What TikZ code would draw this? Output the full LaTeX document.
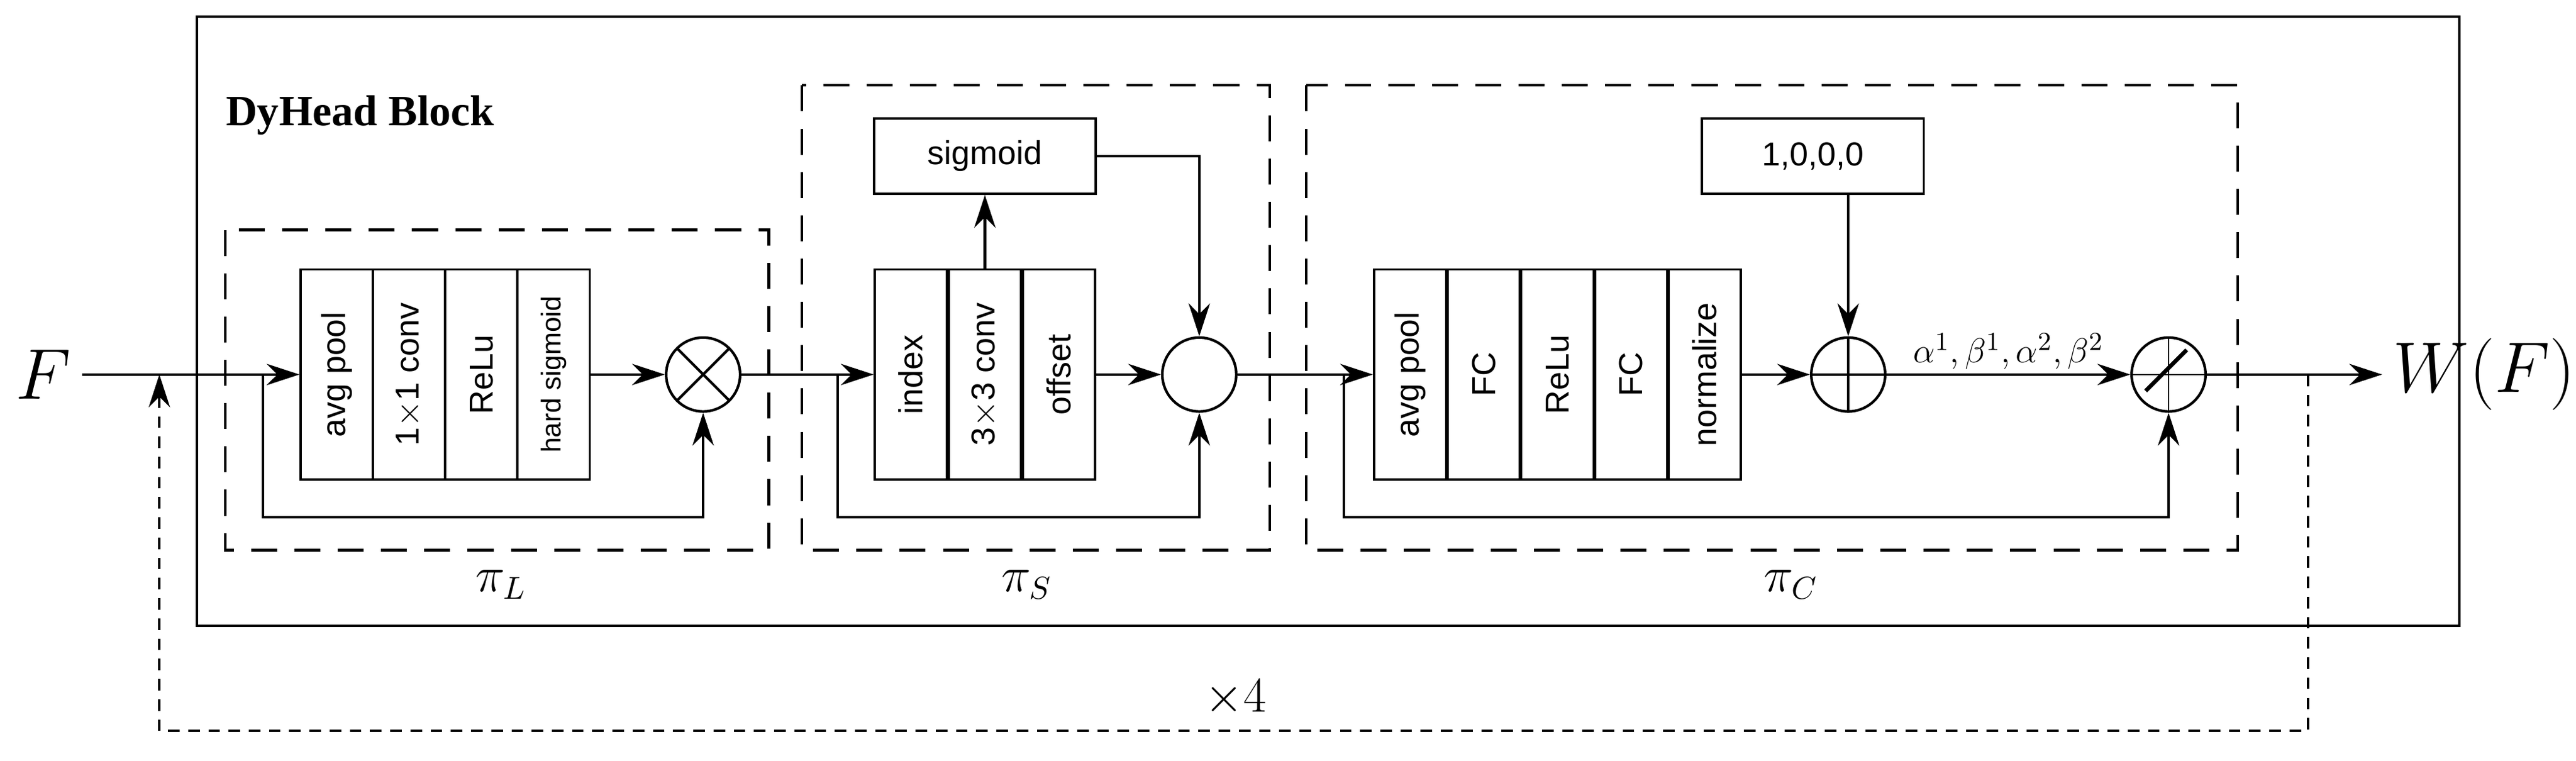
\documentclass[tikz,border=0pt]{standalone}
\usepackage{fontspec}
\setmainfont{Liberation Serif}
\newfontfamily\arialf{Liberation Sans}
\usepackage{amsmath}
\usetikzlibrary{arrows.meta,calc}
\begin{document}
\begin{tikzpicture}[x=0.02cm,y=-0.02cm,
  line width=0.9pt,
  arr/.style={-{Stealth[length=0.4cm,width=0.26cm]}},
  dbox/.style={draw,dash pattern=on 9pt off 6pt,line width=0.9pt},
  cell/.style={draw,line width=0.8pt,minimum width=0.88cm,minimum height=2.56cm,inner sep=0pt,font=\arialf\fontsize{11.5}{13}\selectfont},
  op/.style={draw,circle,minimum size=0.9cm,inner sep=0pt},
  tbox/.style={draw,line width=0.8pt,minimum width=2.7cm,minimum height=0.92cm,inner sep=0pt,font=\arialf\fontsize{11.5}{13}\selectfont}]
\useasboundingbox (0,0) rectangle (1568,463);
% outer block
\draw[line width=0.9pt] (120,10) rectangle (1497,381);
\node[anchor=west,font=\bfseries\fontsize{15}{17}\selectfont] (title) at (131,70) {DyHead Block};
% dashed groups
\draw[dbox] (137,140) rectangle (468,335);
\draw[dbox] (488,52) rectangle (773,335);
\draw[dbox] (795,52) rectangle (1362,335);
\node[font=\fontsize{16}{18}\selectfont] (pl) at (305,356) {$\pi_L$};
\node[font=\fontsize{16}{18}\selectfont] (ps) at (625,356) {$\pi_S$};
\node[font=\fontsize{16}{18}\selectfont] (pc) at (1090,356) {$\pi_C$};
% pi_L
\node[cell] (l1) at (205,228) {\rotatebox{90}{avg pool}};
\node[cell] (l2) at (249,228) {\rotatebox{90}{1$\times$1 conv}};
\node[cell] (l3) at (293,228) {\rotatebox{90}{ReLu}};
\node[cell,font=\arialf\fontsize{9.5}{11}\selectfont] (l4) at (337,228) {\rotatebox{90}{hard sigmoid}};
\node[op] (mul) at (428,228) {};
\draw ($(mul.center)+(-0.318cm,-0.318cm)$) -- ($(mul.center)+(0.318cm,0.318cm)$);
\draw ($(mul.center)+(-0.318cm,0.318cm)$) -- ($(mul.center)+(0.318cm,-0.318cm)$);
% pi_S
\node[cell] (s1) at (554.5,228) {\rotatebox{90}{index}};
\node[cell] (s2) at (599.5,228) {\rotatebox{90}{3$\times$3 conv}};
\node[cell] (s3) at (644.5,228) {\rotatebox{90}{offset}};
\node[tbox] (sig) at (599.5,95) {sigmoid};
\node[op] (def) at (730,228) {};
% pi_C
\node[cell] (c1) at (858.4,228) {\rotatebox{90}{avg pool}};
\node[cell] (c2) at (903.2,228) {\rotatebox{90}{FC}};
\node[cell] (c3) at (948,228) {\rotatebox{90}{ReLu}};
\node[cell] (c4) at (992.8,228) {\rotatebox{90}{FC}};
\node[cell] (c5) at (1037.6,228) {\rotatebox{90}{normalize}};
\node[tbox] (one) at (1103.5,95) {1,0,0,0};
\node[op] (add) at (1125,228) {};
\draw (add.north) -- (add.south) (add.west) -- (add.east);
\node[op] (act) at (1320,228) {};
\draw[line width=0.5pt] (act.north) -- (act.south) (act.west) -- (act.east);
\draw[line width=1.4pt] ($(act.center)+(-0.28cm,-0.2cm)$) -- ($(act.center)+(0.22cm,0.3cm)$);
% in / out
\node[font=\fontsize{24}{26}\selectfont,anchor=east] (F) at (50,228) {$F$};
\node[font=\fontsize{24}{26}\selectfont,anchor=west] (W) at (1450,228) {$W(F)$};
\coordinate (sL) at (160,228);
\coordinate (sS) at (510,228);
\coordinate (sC) at (818,228);
\coordinate (fb) at (1405,228);
\coordinate (fbin) at (97,228);
% main path
\draw[arr] (F.east) -- (l1.west);
\draw[arr] (l4.east) -- (mul.west);
\draw[arr] (mul.east) -- (s1.west);
\draw[arr] (s3.east) -- (def.west);
\draw[arr] (def.east) -- (c1.west);
\draw[arr] (c5.east) -- (add.west);
\draw[arr] (add.east) -- node[above,font=\fontsize{13}{15}\selectfont,yshift=-2pt] (lab) {$\alpha^1,\beta^1,\alpha^2,\beta^2$} (act.west);
\draw[arr] (act.east) -- (W.west);
% skips
\draw[arr] (sL) |- (428,315) -- (mul.south);
\draw[arr] (sS) |- (730,315) -- (def.south);
\draw[arr] (sC) |- (1320,315) -- (act.south);
\draw[arr] (s2.north) -- (sig.south);
\draw[arr] (sig.east) -| (def.north);
\draw[arr] (one.south -| add.north) -- (add.north);
% repeat
\draw[arr,dash pattern=on 4pt off 3pt,line width=0.8pt] (fb) |- (fbin |- 0,445) -- (fbin);
\node[font=\fontsize{16}{18}\selectfont] (rep) at (752,425) {$\times 4$};
\end{tikzpicture}
\end{document}
